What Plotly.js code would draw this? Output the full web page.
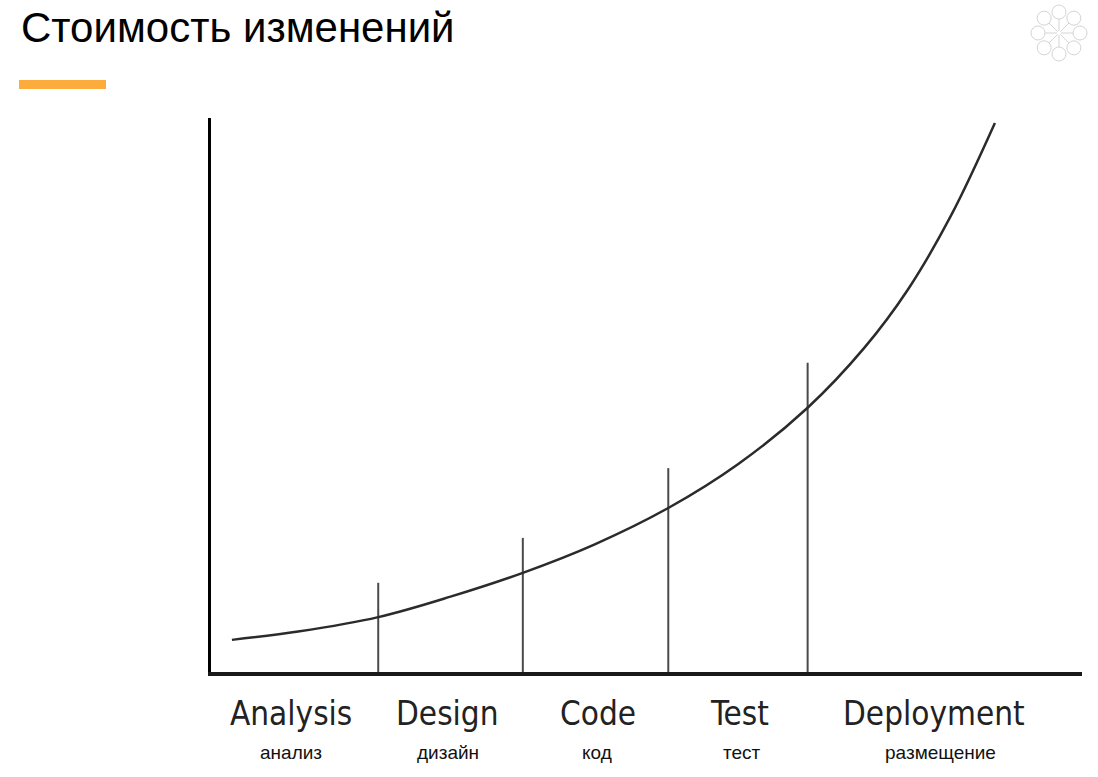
<!DOCTYPE html>
<html>
<head>
<meta charset="utf-8">
<script src="https://cdn.plot.ly/plotly-3.0.1.min.js"></script>
<style>
  html, body { margin: 0; padding: 0; background: #fff; }
  #chart { width: 1098px; height: 777px; }
</style>
</head>
<body>
<div id="chart"></div>
<script>
// ---- data (arbitrary units: time along x, cost of change along y) ----
const curveX = [0.24, 1.0, 1.92, 2.75, 3.58, 4.4, 5.25, 6.05, 6.85, 7.5, 8.0, 8.5, 9.0];
const curveY = [5.8, 7.3, 9.9, 13.6, 17.9, 23.0, 29.6, 37.5, 47.7, 58.5, 69.0, 82.5, 99.1];

const phaseBoundaryX = [1.92, 3.58, 5.25, 6.85];
const phaseBoundaryTop = [16.1, 24.2, 36.8, 55.8];

const phaseLabelX = [0.92, 2.72, 4.44, 6.07, 8.3];
const phaseLabelRuX = [0.92, 2.72, 4.43, 6.1, 8.38];
const phaseLabelsEn = ["Analysis", "Design", "Code", "Test", "Deployment"];
const phaseLabelsRu = ["анализ", "дизайн", "код", "тест", "размещение"];

const chartTitle = "Стоимость изменений";

// ---- build traces ----
const bx = [], by = [];
phaseBoundaryX.forEach((x, i) => { bx.push(x, x, null); by.push(0, phaseBoundaryTop[i], null); });

const traces = [
  { x: bx, y: by, type: 'scatter', mode: 'lines',
    line: { color: '#4a4a4a', width: 2 }, hoverinfo: 'skip', showlegend: false },
  { x: curveX, y: curveY, type: 'scatter', mode: 'lines',
    line: { color: '#2b2b2b', width: 2.5, shape: 'spline', smoothing: 1.0 },
    showlegend: false }
];

// ---- layout ----
const W = 1098, H = 777;
const M = { l: 211, r: 16, t: 118, b: 105 };
const PW = W - M.l - M.r, PH = H - M.t - M.b;
const px = (x) => (x - M.l) / PW;
const py = (y) => (H - M.b - y) / PH;

const annotations = [];
phaseLabelsEn.forEach((t, i) => {
  annotations.push({ text: t, x: phaseLabelX[i], xref: 'x', y: py(713), yref: 'paper',
    showarrow: false, xanchor: 'center', yanchor: 'middle',
    font: { family: '"Liberation Sans Narrow", "DejaVu Sans Condensed", "Liberation Sans", sans-serif', size: 33, color: '#222' } });
  annotations.push({ text: phaseLabelsRu[i], x: phaseLabelRuX[i], xref: 'x', y: py(752), yref: 'paper',
    showarrow: false, xanchor: 'center', yanchor: 'middle',
    font: { family: '"Liberation Sans", Arial, sans-serif', size: 19, color: '#111' } });
});
annotations.push({ text: chartTitle, x: px(19), xref: 'paper', y: py(27), yref: 'paper',
  showarrow: false, xanchor: 'left', yanchor: 'middle',
  font: { family: '"Liberation Sans", Arial, sans-serif', size: 42, color: '#000' } });

const shapes = [
  // orange accent bar
  { type: 'rect', xref: 'paper', yref: 'paper', x0: px(19), x1: px(106), y0: py(80), y1: py(89),
    fillcolor: '#FBAC3C', line: { width: 0 } }
];
// light logo: eight small circles around a centre, joined by thin lines
const cx = 1059, cy = 33, R = 21, r = 7;
for (let k = 0; k < 8; k++) {
  const a = k * Math.PI / 4 - Math.PI / 2;
  const ex = cx + R * Math.cos(a), ey = cy + R * Math.sin(a);
  shapes.push({ type: 'circle', xref: 'paper', yref: 'paper',
    x0: px(ex - r), x1: px(ex + r), y0: py(ey + r), y1: py(ey - r),
    line: { color: '#d4d4d4', width: 1 } });
  const sx = cx + (R - r) * Math.cos(a), sy = cy + (R - r) * Math.sin(a);
  shapes.push({ type: 'line', xref: 'paper', yref: 'paper',
    x0: px(cx + 2 * Math.cos(a)), y0: py(cy + 2 * Math.sin(a)), x1: px(sx), y1: py(sy),
    line: { color: '#d4d4d4', width: 1 } });
}

const layout = {
  width: W, height: H, margin: M,
  paper_bgcolor: '#fff', plot_bgcolor: '#fff',
  xaxis: { range: [0, 10], showline: true, linecolor: '#1a1a1a', linewidth: 4,
    showgrid: false, zeroline: false, showticklabels: false, ticks: '', fixedrange: true },
  yaxis: { range: [0, 100], showline: true, linecolor: '#000', linewidth: 3,
    showgrid: false, zeroline: false, showticklabels: false, ticks: '', fixedrange: true },
  annotations: annotations,
  shapes: shapes,
  showlegend: false
};

Plotly.newPlot('chart', traces, layout, { displayModeBar: false, staticPlot: true });
</script>
</body>
</html>
